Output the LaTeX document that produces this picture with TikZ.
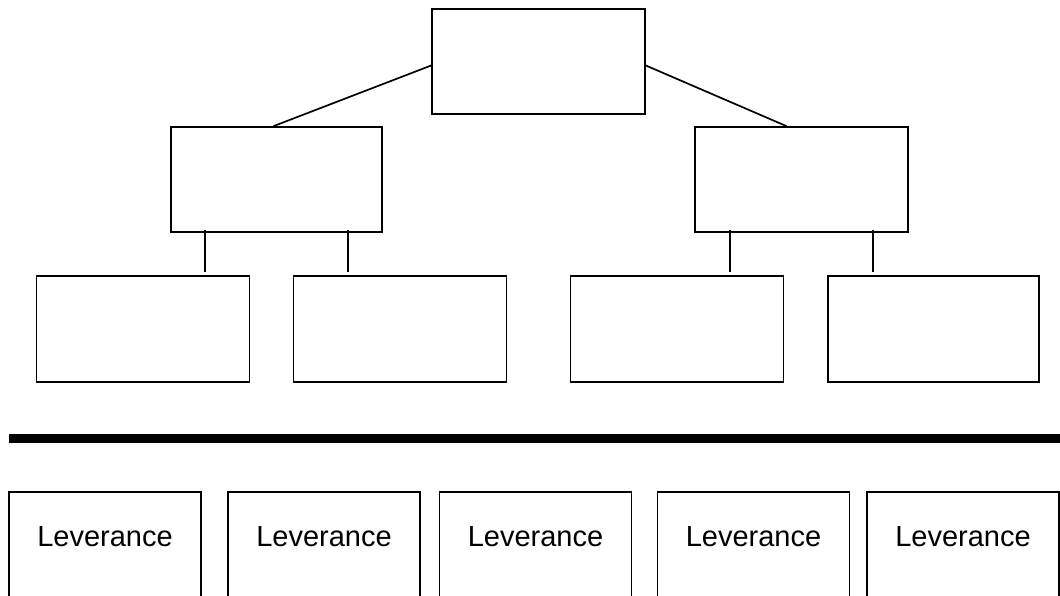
\documentclass[tikz,border=0pt]{standalone}
\usepackage{fontspec}
\setmainfont{Liberation Sans}
\usetikzlibrary{positioning}

\begin{document}
\begin{tikzpicture}[x=1pt, y=-1pt,
    box/.style = {draw, line width=1.7pt, minimum width=213pt, minimum height=105pt, inner sep=0pt},
    leverbox/.style = {draw, line width=1.7pt, minimum width=192pt, minimum height=130pt, inner sep=0pt, anchor=north},
    levertext/.style = {font=\fontsize{29}{34}\selectfont, inner sep=0pt},
    conn/.style = {line width=1.7pt}]
    \clip (0,0) rectangle (1060,595);
    \fill[white] (0,0) rectangle (1060,595);

    % Top box
    \node[box] (top) at (538.5,61.5) {};

    % Middle boxes
    \node[box, minimum width=211pt] (midL) at (276.5,179.5) {};
    \node[box] (midR) at (801.5,179.5) {};

    % Bottom boxes of the tree
    \node[box, minimum height=106pt] (b1) at (143,329) {};
    \node[box, minimum height=106pt] (b2) at (400,329) {};
    \node[box, minimum height=106pt] (b3) at (677,329) {};
    \node[box, minimum width=211pt, minimum height=106pt] (b4) at (933.5,329) {};

    % Connectors
    \draw[conn] ([yshift=-4pt]top.west) -- ([xshift=-3pt]midL.north);
    \draw[conn] ([yshift=-4pt]top.east) -- ([xshift=-15pt]midR.north);
    \draw[conn] ([xshift=-71.5pt,yshift=3pt]midL.south) -- ([xshift=-71.5pt,yshift=3pt]midL.south |- b1.north);
    \draw[conn] ([xshift=71.5pt,yshift=3pt]midL.south) -- ([xshift=71.5pt,yshift=3pt]midL.south |- b2.north);
    \draw[conn] ([xshift=-71.5pt,yshift=3pt]midR.south) -- ([xshift=-71.5pt,yshift=3pt]midR.south |- b3.north);
    \draw[conn] ([xshift=71.5pt,yshift=3pt]midR.south) -- ([xshift=71.5pt,yshift=3pt]midR.south |- b4.north);

    % Separator
    \coordinate (sepL) at (9,438.5);
    \coordinate (sepR) at (1065,438.5);
    \draw[line width=8.5pt] (sepL) -- (sepR);

    % Leverance boxes
    \foreach \x [count=\i] in {105,324,535.5,753.5,963} {
        \node[leverbox] (lev\i) at (\x,491) {};
        \node[levertext] at ([yshift=-46pt]lev\i.north) {Leverance};
    }
\end{tikzpicture}
\end{document}
